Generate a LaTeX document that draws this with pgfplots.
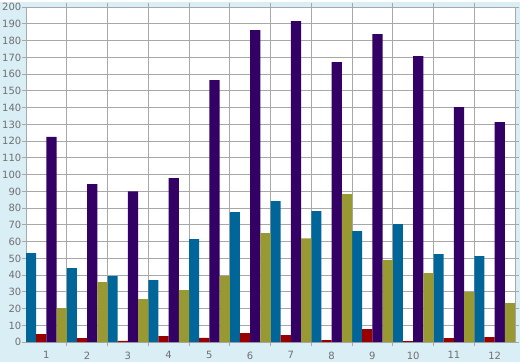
\documentclass[border=0pt]{standalone}
\usepackage{pgfplots}
\pgfplotsset{compat=1.18}
\usepackage{fontspec}
\setmainfont{DejaVu Sans}
\definecolor{bgc}{HTML}{D9EEF5}
\definecolor{gridc}{HTML}{A8A8A8}
\definecolor{txtc}{HTML}{707070}
\definecolor{cblue}{HTML}{006699}
\definecolor{cred}{HTML}{990000}
\definecolor{cpurp}{HTML}{330066}
\definecolor{colive}{HTML}{999933}
\begin{document}
\begin{tikzpicture}[x=1pt,y=1pt]
\fill[bgc] (0,0) rectangle (520,360);
\begin{axis}[
  at={(26pt,20pt)}, anchor=south west,
  scale only axis, width=489pt, height=335pt,
  xmin=0.5, xmax=12.5, ymin=0, ymax=200,
  axis background/.style={fill=white},
  axis line style={gridc, line width=0.8pt},
  ybar=0pt, bar width=0.25,
  xtick={1,...,12}, major x tick style={draw=none},
  minor xtick={1.5,2.5,...,11.5},
  minor x tick style={draw=gridc, line width=0.8pt},
  minor tick length=4pt,
  xminorgrids, minor grid style={gridc, line width=0.8pt},
  ytick={0,10,...,200},
  ymajorgrids, major grid style={gridc, line width=0.8pt},
  major tick length=4pt,
  y tick style={draw=gridc, line width=0.8pt},
  tick align=outside,
  tick label style={font=\fontsize{10}{12}\selectfont, text=txtc},
  /pgf/number format/assume math mode=true,
  yticklabel style={inner xsep=0.5pt},
  xticklabel style={yshift=-2pt},
  axis on top=false,
  every axis plot/.append style={draw=none},
]
\addplot[fill=cblue] coordinates {(1,53.1)(2,44.2)(3,39.4)(4,37)(5,61.5)(6,77.6)(7,84.2)(8,78.2)(9,66.3)(10,70.4)(11,52.5)(12,51.3)};
\addplot[fill=cred] coordinates {(1,4.8)(2,2.4)(3,0.8)(4,3.6)(5,2.6)(6,5.4)(7,4.2)(8,1.2)(9,7.8)(10,0.6)(11,2.4)(12,3.0)};
\addplot[fill=cpurp] coordinates {(1,122.6)(2,94.3)(3,90)(4,97.9)(5,156.4)(6,186.3)(7,191.6)(8,167.2)(9,183.9)(10,170.7)(11,140.3)(12,131.3)};
\addplot[fill=colive] coordinates {(1,20.3)(2,35.8)(3,25.7)(4,31)(5,39.4)(6,65)(7,62)(8,88.4)(9,49)(10,41.2)(11,29.9)(12,23.3)};
\end{axis}
\end{tikzpicture}
\end{document}
